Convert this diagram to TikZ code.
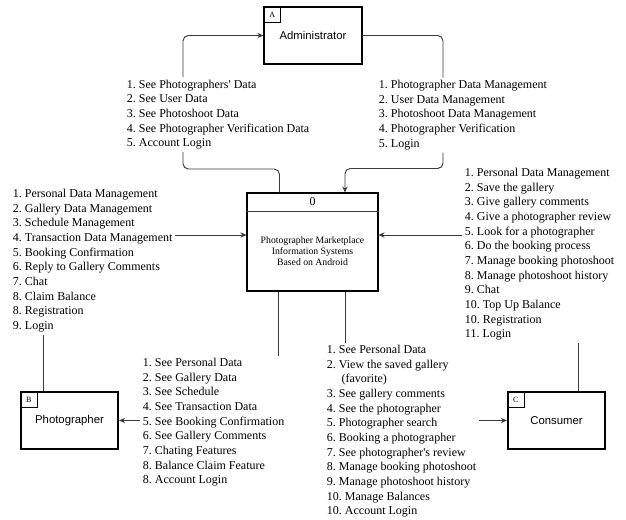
\documentclass[tikz,border=0pt]{standalone}
\usepackage{fontspec}
\setmainfont{Liberation Serif}
\newfontfamily\boxfont{Liberation Sans}
\usepackage{tikz}
\usetikzlibrary{arrows.meta,positioning,calc}
\definecolor{dfdLine}{HTML}{3A3A3A}
\frenchspacing

\begin{document}
\begin{tikzpicture}[x=0.75pt,y=-0.75pt]
\tikzset{entity/.style={rectangle, draw=black, line width=1.4pt, minimum width=73pt, minimum height=42.75pt,
  font=\boxfont\fontsize{8.5}{10}\selectfont, inner sep=0pt},
 tagbox/.style={rectangle, draw=black, line width=0.6pt, minimum width=12.75pt, minimum height=12pt,
  inner sep=0pt, font=\fontsize{6}{7}\selectfont, anchor=north west},
 procbox/.style={rectangle, draw=black, line width=0.8pt, minimum width=98.25pt, minimum height=73.5pt},
 flowtext/.style={align=left, anchor=north west, inner sep=0pt, outer sep=2pt, font=\fontsize{9}{11}\selectfont},
 link/.style={draw=dfdLine, line width=0.7pt},
 roundlink/.style={link, rounded corners=4pt},
 arr/.style={link, -{Stealth[length=4.5pt,width=4pt]}}}

\useasboundingbox (0,0) rectangle (626,520);

\node[entity] (admin) at (313,35.5) {Administrator};
\node[tagbox] (admintag) at (admin.north west) {A};
\node[entity] (photo) at (69.5,420.5) {Photographer};
\node[tagbox] (phototag) at (photo.north west) {B};
\node[entity] (cons) at (556.5,420.5) {Consumer};
\node[tagbox] (constag) at (cons.north west) {C};

\node[procbox] (proc) at (312.5,242) {};
\draw[link] ($(proc.north west)+(0,19)$) -- ($(proc.north east)+(0,19)$);
\node[font=\fontsize{9}{11}\selectfont] (procid) at ($(proc.north)+(0,9.5)$) {0};
\node[font=\fontsize{7.3}{8.3}\selectfont, align=center] (proctitle) at (312.5,251)
 {Photographer Marketplace\\Information Systems\\Based on Android};

\node[flowtext] (adminout) at (124.3,77.1) {1. See Photographers\textquotesingle{} Data\\2. See User Data\\3. See Photoshoot Data\\
 4. See Photographer Verification Data\\5. Account Login};
\node[flowtext] (adminin) at (376.3,77.6) {1. Photographer Data Management\\2. User Data Management\\
 3. Photoshoot Data Management\\4. Photographer Verification\\5. Login};
\node[flowtext] (photoin) at (10.3,186.6) {1. Personal Data Management\\2. Gallery Data Management\\
 3. Schedule Management\\4. Transaction Data Management\\5. Booking Confirmation\\6. Reply to Gallery Comments\\
 7. Chat\\8. Claim Balance\\8. Registration\\9. Login};
\node[flowtext] (consin) at (462.3,165.6) {1. Personal Data Management\\2. Save the gallery\\3. Give gallery comments\\
 4. Give a photographer review\\5. Look for a photographer\\6. Do the booking process\\7. Manage booking photoshoot\\
 8. Manage photoshoot history\\9. Chat\\10. Top Up Balance\\10. Registration\\11. Login};
\node[flowtext] (photoout) at (140.3,355.6) {1. See Personal Data\\2. See Gallery Data\\3. See Schedule\\
 4. See Transaction Data\\5. See Booking Confirmation\\6. See Gallery Comments\\7. Chating Features\\
 8. Balance Claim Feature\\8. Account Login};
\node[flowtext] (consout) at (324.3,342.6) {1. See Personal Data\\2. View the saved gallery\\\hspace*{11pt}(favorite)\\
 3. See gallery comments\\4. See the photographer\\5. Photographer search\\6. Booking a photographer\\
 7. See photographer\textquotesingle s review\\8. Manage booking photoshoot\\9. Manage photoshoot history\\10. Manage Balances\\
 10. Account Login};

\coordinate (aoutx) at ($(adminout.south west)+(58.7,0)$);
\coordinate (ainx) at ($(adminin.south west)+(66.7,0)$);
\draw[roundlink] ($(proc.north west)+(33,0)$) |- ($(aoutx)+(0,17)$) -- (aoutx);
\draw[roundlink, arr] (aoutx |- adminout.north) |- (admin.west);
\draw[roundlink] (admin.east) -| (ainx |- adminin.north);
\draw[roundlink, arr] (ainx) -- ++(0,16) -| ($(proc.north west)+(98.5,0)$);

\coordinate (pin) at ($(proc.west)+(0,-7)$);
\coordinate (cin) at ($(proc.east)+(0,-7)$);
\draw[arr] (photoin.east |- pin) -- (pin);
\draw[arr] (consin.west |- cin) -- (cin);

\coordinate (phup) at ($(photo.north west)+(24,0)$);
\draw[link] (phup) -- (phup |- photoin.south);
\coordinate (pdn) at ($(proc.south west)+(32,0)$);
\draw[link] (pdn) -- (pdn |- photoout.north);
\draw[arr] (photoout.west |- photo.east) -- (photo.east);

\coordinate (cdn) at ($(proc.south west)+(99,0)$);
\draw[link] (cdn) -- (cdn |- consout.north);
\draw[arr] (consout.east |- cons.west) -- (cons.west);
\coordinate (cup) at ($(cons.north west)+(72,0)$);
\draw[link] (cup) -- (cup |- consin.south);
\end{tikzpicture}
\end{document}
